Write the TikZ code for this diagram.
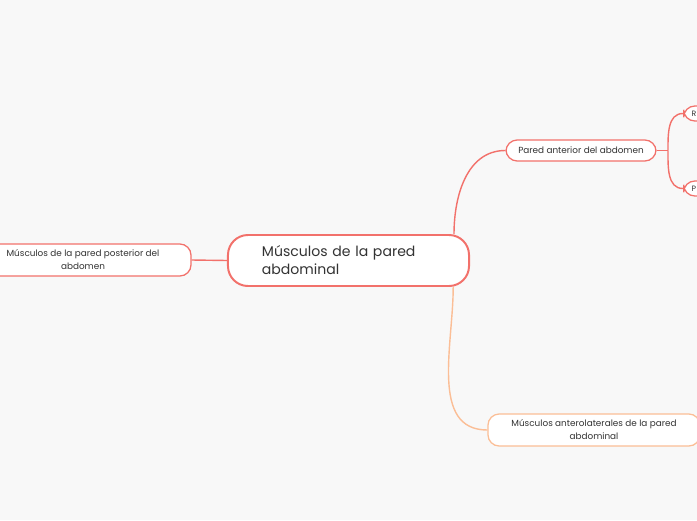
\documentclass[tikz,border=0pt]{standalone}
\usepackage{fontspec}
\setmainfont{Poppins}
\definecolor{bgcol}{HTML}{F8F8F8}
\definecolor{redline}{HTML}{F2716B}
\definecolor{orangeline}{HTML}{FBBE96}
\definecolor{txtcol}{HTML}{333333}
\begin{document}
\begin{tikzpicture}[x=0.025cm,y=-0.025cm,
                    thick,
                    topic/.style={rounded corners=0.5cm,draw=redline,line width=1.4pt,fill=white,
                      minimum width=6.025cm,minimum height=1.275cm,text width=4.325cm,align=left,
                      inner xsep=0.85cm,font=\fontsize{10}{12.8}\selectfont,text=txtcol},
                    sub node/.style={rounded corners=0.28cm,draw=redline,line width=0.9pt,fill=white,
                      inner sep=0pt,align=center,font=\fontsize{6.3}{9.2}\selectfont,text=txtcol},
                    leaf/.style={sub node,minimum width=1.5cm,minimum height=0.375cm,anchor=west,align=left,
                      text width=1.1cm,inner xsep=0.2cm,font=\fontsize{5.5}{6}\selectfont},
                    link/.style={draw=redline,line width=1pt}
                   ]
  \useasboundingbox (0,0) rectangle (697,520);
  \fill[bgcol] (0,0) rectangle (697,520);
  \clip (0,0) rectangle (697,520);

  \node[topic] (pared) at (348.5,260.5) {Músculos de la pared abdominal};
  \node[sub node,minimum width=5.4cm,minimum height=0.8cm] (post) at (83,260) {Músculos de la pared posterior del\\abdomen};
  \node[sub node,minimum width=3.75cm,minimum height=0.525cm] (ant) at (581,150.5) {Pared anterior del abdomen};
  \node[sub node,draw=orangeline,minimum width=5.3cm,minimum height=0.8cm] (antlat) at (594,430) {Músculos anterolaterales de la pared\\abdominal};
  \node[leaf] (r) at (683,113.5) {R};
  \node[leaf] (p) at (683,188.5) {P};
  \coordinate (fork) at (668,150.5);

  \path%
   (pared.west) edge [link] (post.east)
   ([xshift=-0.4cm]pared.north east) edge [link,out=90,in=180] (ant.west)
   ([xshift=-0.42cm]pared.south east) edge [link,draw=orangeline,out=-90,in=180] (antlat.west)
   (ant.east) edge [link] (fork)
   (fork) edge [link,out=90,in=180] (r.west)
   (fork) edge [link,out=-90,in=180] (p.west);
\end{tikzpicture}
\end{document}
